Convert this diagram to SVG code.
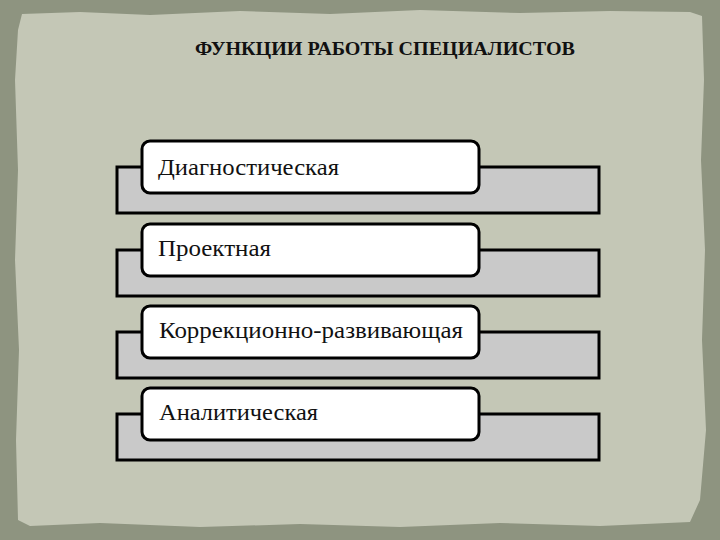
<svg xmlns="http://www.w3.org/2000/svg" width="720" height="540" viewBox="0 0 720 540">
<style>
.bar{fill:#c9c9c9;stroke:#000;stroke-width:3}
.box{fill:#fff;stroke:#000;stroke-width:3}
.lbl{font-family:"Liberation Serif","DejaVu Serif",serif;font-size:24px;fill:#111}
.title{font-family:"Liberation Serif",serif;font-size:18px;font-weight:bold;fill:#111}
</style>
<rect x="0" y="0" width="720" height="540" fill="#8e9480"/>
<polygon fill="#c4c7b6" points="22,14 80,12 150,15 240,11 330,14 420,10 520,13 610,11 690,12 702,16 704,80 701,160 705,250 702,340 706,430 700,500 690,522 600,526 500,523 400,527 300,524 200,527 100,523 30,526 18,520 16,440 19,350 15,260 18,170 15,80 18,30"/>
<text class="title" x="195" y="55" textLength="380" lengthAdjust="spacingAndGlyphs">ФУНКЦИИ РАБОТЫ СПЕЦИАЛИСТОВ</text>
<g id="connectors"></g>
<g id="node1">
<rect class="bar" x="117" y="167" width="482" height="46"/>
<rect class="box" x="142" y="141" width="337" height="52" rx="8"/>
<text class="lbl" x="158" y="175" textLength="181" lengthAdjust="spacingAndGlyphs">Диагностическая</text>
</g>
<g id="node2">
<rect class="bar" x="117" y="250" width="482" height="46"/>
<rect class="box" x="142" y="224" width="337" height="52" rx="8"/>
<text class="lbl" x="158" y="256" textLength="113" lengthAdjust="spacingAndGlyphs">Проектная</text>
</g>
<g id="node3">
<rect class="bar" x="117" y="332" width="482" height="46"/>
<rect class="box" x="142" y="306" width="337" height="52" rx="8"/>
<text class="lbl" x="159" y="338" textLength="304" lengthAdjust="spacingAndGlyphs">Коррекционно-развивающая</text>
</g>
<g id="node4">
<rect class="bar" x="117" y="414" width="482" height="46"/>
<rect class="box" x="142" y="388" width="337" height="52" rx="8"/>
<text class="lbl" x="159" y="420" textLength="159" lengthAdjust="spacingAndGlyphs">Аналитическая</text>
</g>
</svg>
